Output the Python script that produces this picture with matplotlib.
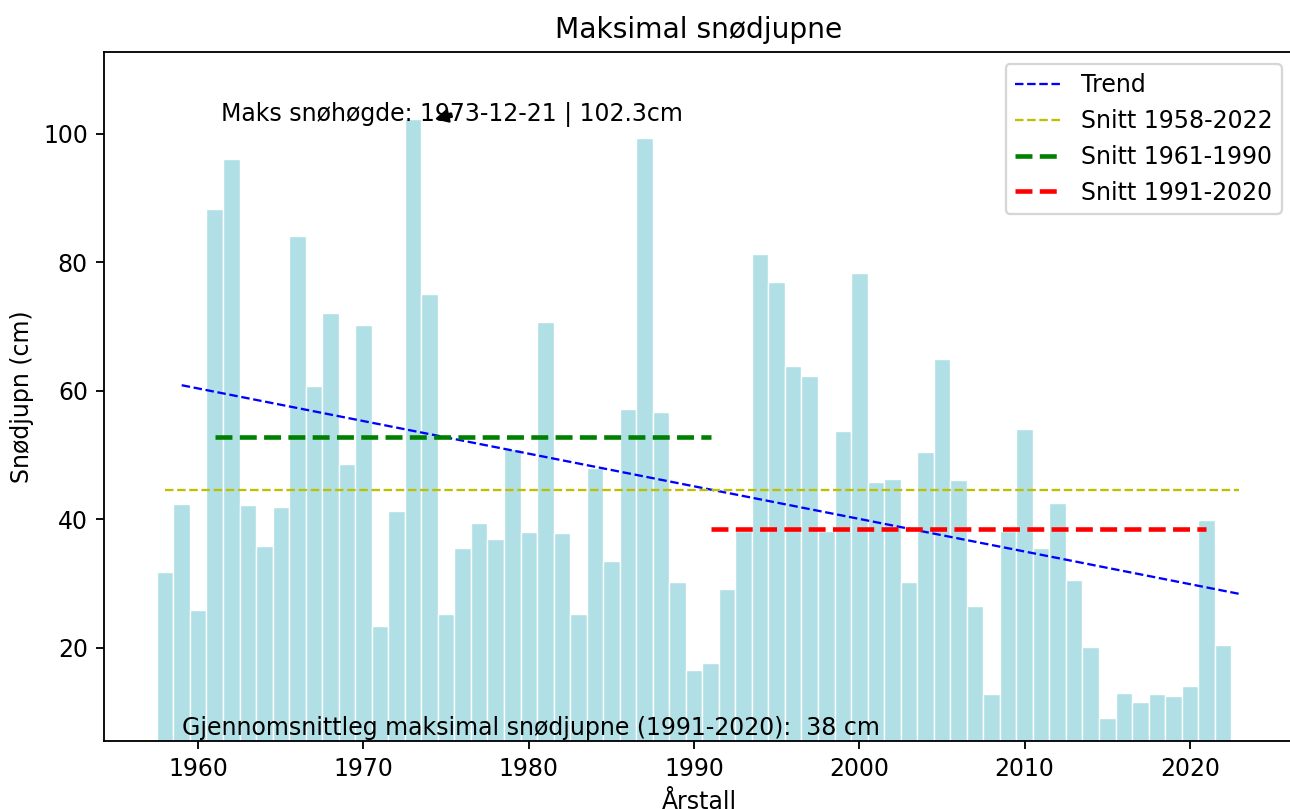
import numpy as np
import matplotlib
matplotlib.use("Agg")
import matplotlib.pyplot as plt

years = np.arange(1958, 2023)
values = [31.8, 42.4, 25.9, 88.2, 96.1, 42.2, 35.9, 41.9, 84.0, 60.7,
          72.1, 48.65, 70.2, 23.4, 41.3, 102.3, 75.0, 25.2, 35.5, 39.4,
          36.9, 50.9, 38.0, 70.7, 37.8, 25.2, 48.0, 33.5, 57.2, 99.3,
          56.7, 30.2, 16.6, 17.7, 29.2, 38.1, 81.3, 76.9, 63.9, 62.3,
          38.1, 53.8, 78.3, 45.8, 46.3, 30.3, 50.5, 64.9, 46.1, 26.5,
          12.8, 38.2, 54.0, 35.6, 42.6, 30.6, 20.2, 9.1, 13.0, 11.5,
          12.75, 12.5, 14.0, 39.9, 20.5]
max_date = "1973-12-21"
max_value = 102.3
max_x = 1974.4

title = "Maksimal snødjupne"
xlabel = "Årstall"
ylabel = "Snødjupn (cm)"
legend_labels = ["Trend", "Snitt 1958-2022", "Snitt 1961-1990", "Snitt 1991-2020"]

plt.rcParams["font.size"] = 10.3

vals = np.array(values)
mean_all = vals.mean()
m6190 = vals[(years >= 1961) & (years <= 1990)].mean()
m9120 = vals[(years >= 1991) & (years <= 2020)].mean()
coef = np.polyfit(years, vals, 1)
trend = np.polyval(coef, years)

dpi = 165
fig = plt.figure(figsize=(1290 / dpi, 809 / dpi), dpi=dpi)
ax = fig.add_axes([104 / 1290, (809 - 741) / 809, 1190 / 1290, 689 / 809])

ax.bar(years, vals, width=1.0, color="powderblue", edgecolor="white", linewidth=0.6)
ax.plot(years + 1, trend, "b--", linewidth=1, label=legend_labels[0])
ax.plot([years[0], years[-1] + 1], [mean_all, mean_all], "y--", linewidth=1, label=legend_labels[1])
ax.plot([1961, 1991], [m6190, m6190], "g--", linewidth=2, label=legend_labels[2])
ax.plot([1991, 2021], [m9120, m9120], "r--", linewidth=2, label=legend_labels[3])

ax.annotate(f"Maks snøhøgde: {max_date} | {max_value}cm", xy=(max_x, max_value),
            xytext=(1961.4, 101.9),
            arrowprops=dict(facecolor="black", shrink=0.05, width=1.5, headwidth=5, headlength=5))
ax.text(1959, 6.4, f"Gjennomsnittleg maksimal snødjupne (1991-2020):  {int(m9120)} cm")

ax.set_xlim(1954.3, 2026.3)
ax.set_ylim(5.5, 112.7)
ax.set_xticks([1960, 1970, 1980, 1990, 2000, 2010, 2020])
ax.set_yticks([20, 40, 60, 80, 100])
ax.set_title(title, fontsize=12.3)
ax.set_xlabel(xlabel)
ax.set_ylabel(ylabel)
ax.legend(loc="upper right")

fig.savefig("out.png", dpi=dpi)
